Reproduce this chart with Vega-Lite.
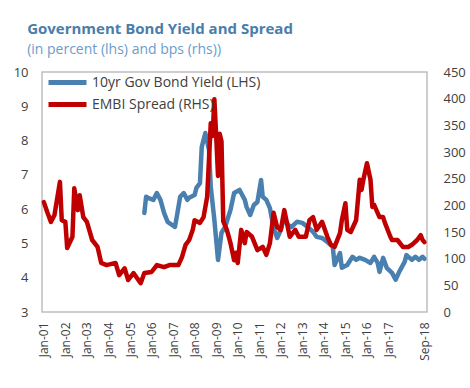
{
  "$schema": "https://vega.github.io/schema/vega-lite/v6.json",
  "width": 385,
  "height": 240,
  "autosize": {"type": "pad"},
  "padding": {"left": 13, "top": 22, "right": 2, "bottom": 5},
  "background": "white",
  "title": {
    "text": "Government Bond Yield and Spread",
    "subtitle": "(in percent (lhs) and bps (rhs))",
    "anchor": "start",
    "frame": "bounds",
    "dx": 14,
    "font": "Open Sans",
    "fontSize": 15,
    "fontWeight": "bold",
    "color": "#4A7DAA",
    "subtitleFont": "Open Sans",
    "subtitleFontSize": 14,
    "subtitleColor": "#6A9CCB",
    "subtitlePadding": 6,
    "offset": 4
  },
  "datasets": {
    "yield": [
      {"d": "2005-09-01", "v": 5.89}, {"d": "2005-10-01", "v": 6.36}, {"d": "2005-11-01", "v": 6.33},
      {"d": "2006-02-01", "v": 6.27}, {"d": "2006-04-01", "v": 6.47}, {"d": "2006-06-01", "v": 6.27},
      {"d": "2006-08-01", "v": 5.89}, {"d": "2006-10-01", "v": 5.63}, {"d": "2007-02-01", "v": 5.48},
      {"d": "2007-03-01", "v": 5.74}, {"d": "2007-05-01", "v": 6.36}, {"d": "2007-07-01", "v": 6.47},
      {"d": "2007-09-01", "v": 6.27}, {"d": "2007-10-01", "v": 6.33}, {"d": "2008-01-01", "v": 6.41},
      {"d": "2008-02-01", "v": 6.62}, {"d": "2008-04-01", "v": 6.76}, {"d": "2008-05-01", "v": 7.81},
      {"d": "2008-07-01", "v": 8.22}, {"d": "2008-09-01", "v": 7.73}, {"d": "2008-10-01", "v": 6.65},
      {"d": "2008-12-01", "v": 5.69}, {"d": "2009-02-01", "v": 4.52}, {"d": "2009-04-01", "v": 5.31},
      {"d": "2009-06-01", "v": 5.48}, {"d": "2009-09-01", "v": 5.98}, {"d": "2009-11-01", "v": 6.47},
      {"d": "2010-02-01", "v": 6.56}, {"d": "2010-05-01", "v": 6.27}, {"d": "2010-06-01", "v": 6.06},
      {"d": "2010-08-01", "v": 5.83}, {"d": "2010-10-01", "v": 6.12}, {"d": "2010-12-01", "v": 6.21},
      {"d": "2011-02-01", "v": 6.85}, {"d": "2011-03-01", "v": 6.36}, {"d": "2011-05-01", "v": 6.27},
      {"d": "2011-07-01", "v": 6.03}, {"d": "2011-09-01", "v": 5.45}, {"d": "2011-11-01", "v": 5.16},
      {"d": "2012-01-01", "v": 5.39}, {"d": "2012-03-01", "v": 5.77}, {"d": "2012-05-01", "v": 5.54},
      {"d": "2012-07-01", "v": 5.48}, {"d": "2012-10-01", "v": 5.63}, {"d": "2013-01-01", "v": 5.6},
      {"d": "2013-04-01", "v": 5.48}, {"d": "2013-07-01", "v": 5.34}, {"d": "2013-09-01", "v": 5.19},
      {"d": "2013-12-01", "v": 5.16}, {"d": "2014-03-01", "v": 5.04}, {"d": "2014-06-01", "v": 4.9},
      {"d": "2014-07-01", "v": 4.37}, {"d": "2014-10-01", "v": 4.72}, {"d": "2014-11-01", "v": 4.29},
      {"d": "2015-02-01", "v": 4.37}, {"d": "2015-05-01", "v": 4.61}, {"d": "2015-07-01", "v": 4.52},
      {"d": "2015-09-01", "v": 4.58}, {"d": "2015-12-01", "v": 4.52}, {"d": "2016-03-01", "v": 4.43},
      {"d": "2016-05-01", "v": 4.61}, {"d": "2016-07-01", "v": 4.43}, {"d": "2016-08-01", "v": 4.17},
      {"d": "2016-10-01", "v": 4.58}, {"d": "2016-12-01", "v": 4.29}, {"d": "2017-03-01", "v": 4.14},
      {"d": "2017-05-01", "v": 3.94}, {"d": "2017-07-01", "v": 4.17}, {"d": "2017-10-01", "v": 4.46},
      {"d": "2017-11-01", "v": 4.66}, {"d": "2018-02-01", "v": 4.52}, {"d": "2018-04-01", "v": 4.61},
      {"d": "2018-06-01", "v": 4.52}, {"d": "2018-08-01", "v": 4.61}, {"d": "2018-09-01", "v": 4.55}
    ],
    "spread": [
      {"d": "2001-01-01", "v": 206}, {"d": "2001-03-01", "v": 187}, {"d": "2001-05-01", "v": 169},
      {"d": "2001-07-01", "v": 182}, {"d": "2001-10-01", "v": 244}, {"d": "2001-11-01", "v": 172},
      {"d": "2002-01-01", "v": 169}, {"d": "2002-02-01", "v": 120}, {"d": "2002-05-01", "v": 141},
      {"d": "2002-06-01", "v": 232}, {"d": "2002-08-01", "v": 191}, {"d": "2002-09-01", "v": 219},
      {"d": "2002-11-01", "v": 178}, {"d": "2003-01-01", "v": 169}, {"d": "2003-04-01", "v": 135},
      {"d": "2003-07-01", "v": 122}, {"d": "2003-09-01", "v": 92}, {"d": "2003-12-01", "v": 88},
      {"d": "2004-05-01", "v": 92}, {"d": "2004-07-01", "v": 69}, {"d": "2004-10-01", "v": 82},
      {"d": "2004-12-01", "v": 60}, {"d": "2005-03-01", "v": 73}, {"d": "2005-07-01", "v": 54},
      {"d": "2005-09-01", "v": 73}, {"d": "2006-01-01", "v": 75}, {"d": "2006-04-01", "v": 88},
      {"d": "2006-08-01", "v": 84}, {"d": "2006-11-01", "v": 88}, {"d": "2007-04-01", "v": 88},
      {"d": "2007-06-01", "v": 103}, {"d": "2007-08-01", "v": 126}, {"d": "2007-10-01", "v": 135},
      {"d": "2007-12-01", "v": 154}, {"d": "2008-01-01", "v": 172}, {"d": "2008-04-01", "v": 167},
      {"d": "2008-06-01", "v": 178}, {"d": "2008-08-01", "v": 216}, {"d": "2008-10-01", "v": 354},
      {"d": "2008-11-01", "v": 330}, {"d": "2008-12-01", "v": 399}, {"d": "2009-01-01", "v": 330},
      {"d": "2009-02-01", "v": 255}, {"d": "2009-03-01", "v": 334}, {"d": "2009-04-01", "v": 320},
      {"d": "2009-05-01", "v": 170}, {"d": "2009-07-01", "v": 154}, {"d": "2009-09-01", "v": 129},
      {"d": "2009-11-01", "v": 97}, {"d": "2009-12-01", "v": 111}, {"d": "2010-01-01", "v": 92},
      {"d": "2010-03-01", "v": 154}, {"d": "2010-05-01", "v": 129}, {"d": "2010-06-01", "v": 150},
      {"d": "2010-09-01", "v": 141}, {"d": "2010-12-01", "v": 116}, {"d": "2011-03-01", "v": 122},
      {"d": "2011-05-01", "v": 107}, {"d": "2011-07-01", "v": 129}, {"d": "2011-09-01", "v": 186},
      {"d": "2011-11-01", "v": 159}, {"d": "2012-01-01", "v": 154}, {"d": "2012-03-01", "v": 191},
      {"d": "2012-06-01", "v": 141}, {"d": "2012-09-01", "v": 154}, {"d": "2012-11-01", "v": 141},
      {"d": "2013-03-01", "v": 141}, {"d": "2013-05-01", "v": 172}, {"d": "2013-07-01", "v": 178},
      {"d": "2013-09-01", "v": 154}, {"d": "2013-12-01", "v": 169}, {"d": "2014-03-01", "v": 141},
      {"d": "2014-05-01", "v": 126}, {"d": "2014-07-01", "v": 122}, {"d": "2014-10-01", "v": 148},
      {"d": "2014-11-01", "v": 172}, {"d": "2015-01-01", "v": 204}, {"d": "2015-02-01", "v": 154},
      {"d": "2015-04-01", "v": 150}, {"d": "2015-07-01", "v": 172}, {"d": "2015-09-01", "v": 248},
      {"d": "2015-10-01", "v": 229}, {"d": "2015-11-01", "v": 248}, {"d": "2016-01-01", "v": 279},
      {"d": "2016-03-01", "v": 248}, {"d": "2016-04-01", "v": 197}, {"d": "2016-05-01", "v": 201},
      {"d": "2016-08-01", "v": 178}, {"d": "2016-10-01", "v": 178}, {"d": "2016-11-01", "v": 167},
      {"d": "2017-02-01", "v": 141}, {"d": "2017-03-01", "v": 135}, {"d": "2017-06-01", "v": 135},
      {"d": "2017-09-01", "v": 122}, {"d": "2017-12-01", "v": 122}, {"d": "2018-02-01", "v": 126},
      {"d": "2018-05-01", "v": 135}, {"d": "2018-07-01", "v": 144}, {"d": "2018-08-01", "v": 135},
      {"d": "2018-09-01", "v": 131}
    ]
  },
  "encoding": {
    "x": {
      "field": "d",
      "type": "temporal",
      "scale": {"type": "utc", "domain": [{"year": 2000, "month": 12, "date": 1, "utc": true}, {"year": 2018, "month": 10, "date": 15, "utc": true}]},
      "axis": {
        "title": null,
        "format": "%b-%y",
        "labelAngle": -90,
        "labelAlign": "right",
        "labelBaseline": "middle",
        "labelPadding": 10,
        "ticks": false,
        "domain": false,
        "grid": false,
        "labelOverlap": false,
        "values": [
          {"year": 2001, "month": 1, "date": 1, "utc": true}, {"year": 2002, "month": 1, "date": 1, "utc": true},
          {"year": 2003, "month": 1, "date": 1, "utc": true}, {"year": 2004, "month": 1, "date": 1, "utc": true},
          {"year": 2005, "month": 1, "date": 1, "utc": true}, {"year": 2006, "month": 1, "date": 1, "utc": true},
          {"year": 2007, "month": 1, "date": 1, "utc": true}, {"year": 2008, "month": 1, "date": 1, "utc": true},
          {"year": 2009, "month": 1, "date": 1, "utc": true}, {"year": 2010, "month": 1, "date": 1, "utc": true},
          {"year": 2011, "month": 1, "date": 1, "utc": true}, {"year": 2012, "month": 1, "date": 1, "utc": true},
          {"year": 2013, "month": 1, "date": 1, "utc": true}, {"year": 2014, "month": 1, "date": 1, "utc": true},
          {"year": 2015, "month": 1, "date": 1, "utc": true}, {"year": 2016, "month": 1, "date": 1, "utc": true},
          {"year": 2017, "month": 1, "date": 1, "utc": true}, {"year": 2018, "month": 9, "date": 1, "utc": true}
        ]
      }
    }
  },
  "layer": [
    {
      "data": {"name": "yield"},
      "mark": {"type": "line", "strokeWidth": 4.5, "strokeJoin": "round", "strokeCap": "round"},
      "encoding": {
        "y": {
          "field": "v", "type": "quantitative",
          "scale": {"domain": [3, 10], "nice": false, "zero": false},
          "axis": {"orient": "left", "title": null, "values": [3, 4, 5, 6, 7, 8, 9, 10], "ticks": false, "domain": false, "grid": false, "labelPadding": 14}
        },
        "color": {
          "datum": "10yr Gov Bond Yield (LHS)", "type": "nominal",
          "scale": {"domain": ["10yr Gov Bond Yield (LHS)"], "range": ["#4A80B0"]},
          "legend": {
            "title": null,
            "orient": "none",
            "legendX": 4,
            "legendY": -11,
            "symbolType": "stroke",
            "symbolSize": 1444,
            "symbolStrokeWidth": 5,
            "labelFontSize": 14,
            "labelFont": "Open Sans",
            "labelColor": "#404040",
            "labelLimit": 300,
            "labelOffset": 3,
            "padding": 0
          }
        }
      }
    },
    {
      "data": {"name": "spread"},
      "mark": {"type": "line", "strokeWidth": 4.5, "strokeJoin": "round", "strokeCap": "round"},
      "encoding": {
        "y": {
          "field": "v", "type": "quantitative",
          "scale": {"domain": [0, 450], "nice": false},
          "axis": {"orient": "right", "title": null, "values": [0, 50, 100, 150, 200, 250, 300, 350, 400, 450], "ticks": false, "domain": false, "grid": false, "labelPadding": 16}
        },
        "stroke": {
          "datum": "EMBI Spread (RHS)", "type": "nominal",
          "scale": {"domain": ["EMBI Spread (RHS)"], "range": ["#C00000"]},
          "legend": {
            "title": null,
            "orient": "none",
            "legendX": 4,
            "legendY": 11,
            "symbolType": "stroke",
            "symbolSize": 1444,
            "symbolStrokeWidth": 5,
            "labelFontSize": 14,
            "labelFont": "Open Sans",
            "labelColor": "#404040",
            "labelLimit": 300,
            "labelOffset": 3,
            "padding": 0
          }
        }
      }
    }
  ],
  "resolve": {"scale": {"y": "independent"}},
  "config": {
    "view": {"stroke": "#BFBFBF", "strokeWidth": 1.5},
    "axis": {"labelFont": "Open Sans", "labelFontSize": 13, "labelColor": "#404040"},
    "axisX": {"labelFontSize": 12}
  }
}
